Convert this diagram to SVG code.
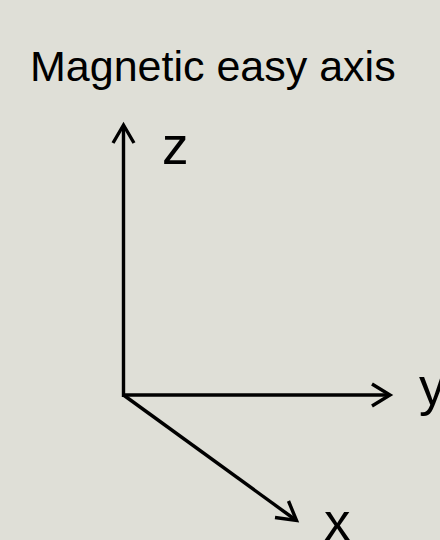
<svg xmlns="http://www.w3.org/2000/svg" width="440" height="540" viewBox="0 0 440 540">
<style>
.ax{stroke:#000;stroke-width:3.4;fill:none;stroke-linecap:butt}
.hd{stroke:#000;stroke-width:3.4;fill:none;stroke-linecap:butt;stroke-linejoin:miter}
.lbl{font-family:"Liberation Sans",Arial,sans-serif;fill:#000}
</style>
<rect width="440" height="540" fill="#dfdfd7"/>
<g id="title"><text class="lbl" x="30" y="80.5" font-size="43">Magnetic easy axis</text></g>
<g id="connectors">
<line class="ax" x1="123.5" y1="397" x2="123.5" y2="126"/>
<polyline class="hd" points="113,143 123.5,125 134,143"/>
<line class="ax" x1="122" y1="395" x2="389" y2="395"/>
<polyline class="hd" points="372,384 390,395 372,406"/>
<line class="ax" x1="123.5" y1="395" x2="295" y2="519.5"/>
<polyline class="hd" points="275,517.5 296.5,520.5 288.5,501"/>
</g>
<g id="z"><text class="lbl" x="162" y="164" font-size="53">z</text></g>
<g id="y"><text class="lbl" x="419" y="405" font-size="53">y</text></g>
<g id="x"><text class="lbl" x="324" y="540" font-size="53">x</text></g>
</svg>
